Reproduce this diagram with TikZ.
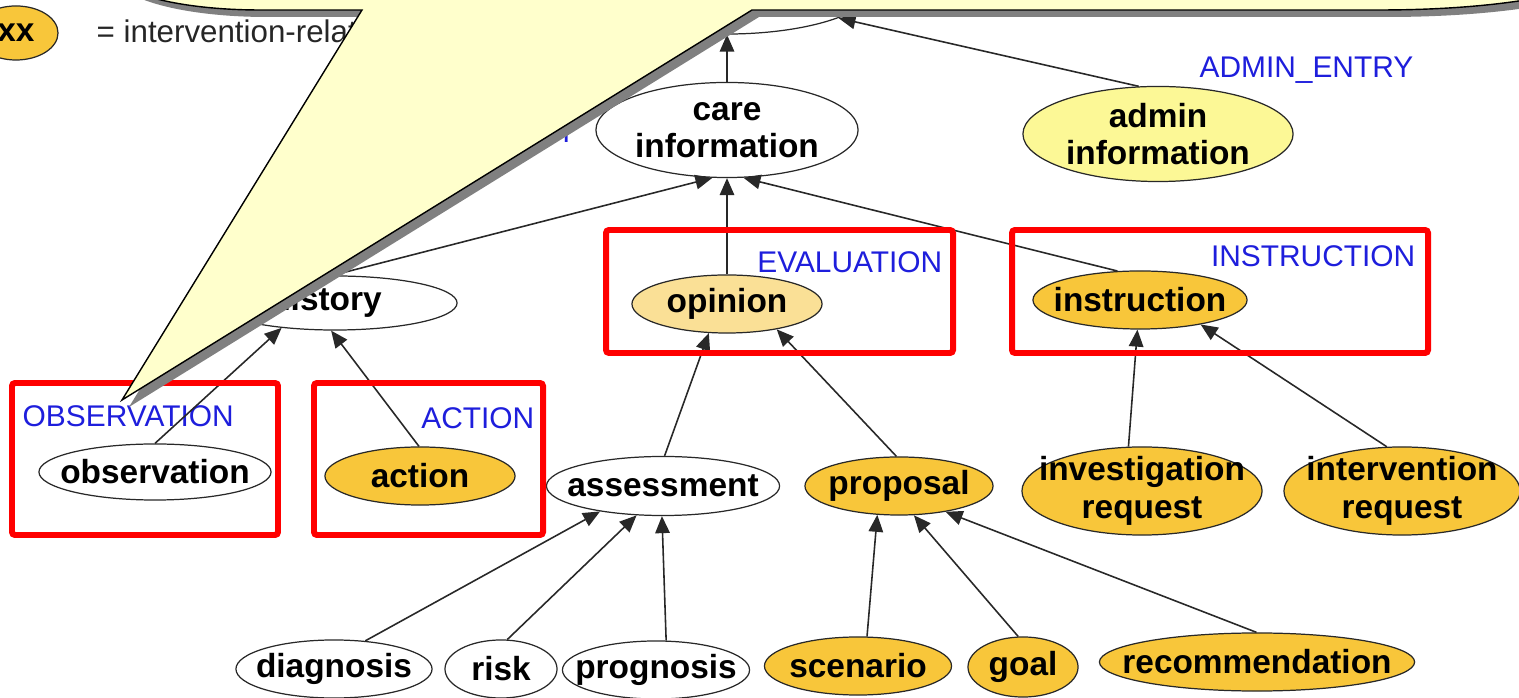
\documentclass[tikz,border=0pt]{standalone}
\usepackage{fontspec}
\setmainfont{Liberation Sans}
\usetikzlibrary{shapes.geometric,arrows.meta}
\definecolor{gold}{RGB}{248,198,58}
\definecolor{paleor}{RGB}{250,224,150}
\definecolor{adminy}{RGB}{252,248,150}
\definecolor{calloutc}{RGB}{255,255,204}
\definecolor{lblue}{RGB}{30,30,220}
\definecolor{shad}{RGB}{128,128,128}
\definecolor{edgec}{RGB}{40,40,40}
\begin{document}
\begin{tikzpicture}[x=0.01cm,y=-0.01cm,
 ell/.style={ellipse, draw=edgec, line width=0.35pt, fill=white, inner sep=0pt},
 sz/.style 2 args={minimum width=#1, minimum height=#2},
 txt/.style={font=\bfseries\fontsize{9.5}{10.6}\selectfont, align=center, inner sep=0pt},
 lbl/.style={font=\fontsize{8.5}{10}\selectfont, text=lblue, inner sep=0pt},
 arr/.style={draw=edgec, line width=0.45pt, -{Triangle[length=0.17cm,width=0.145cm]}},
 redbox/.style={draw=red, line width=1.7pt, rounded corners=0.03cm}]
\useasboundingbox (0,0) rectangle (1519,698);
\clip (0,0) rectangle (1519,698);

% legend
\node[ell, fill=gold, sz={0.84cm}{0.54cm}] (legxx) at (16,33) {};
\node[txt] at (legxx) {xx};
\node[anchor=west, inner sep=0pt, font=\fontsize{8.9}{10}\selectfont, text=black!85] (legtxt) at (96,31) {= intervention-related};

% nodes
\node[ell, sz={3.0cm}{1.0cm}] (top) at (727,-16) {};
\node[ell, sz={2.62cm}{0.95cm}] (care) at (727,130) {};
\node[txt] at (care) {care\\information};
\node[ell, fill=adminy, sz={2.7cm}{0.95cm}] (admin) at (1158,134) {};
\node[txt] at (admin) {admin\\information};
\node[lbl, anchor=east] (adminlbl) at (1414,70) {ADMIN\_ENTRY};
\node[lbl, anchor=east] (carelbl) at (577,132) {ENTRY};

\node[ell, sz={2.44cm}{0.54cm}] (hist) at (335,303) {};
\node[txt] (histtxt) at (326,302) {history};
\node[ell, fill=paleor, sz={1.9cm}{0.58cm}] (opin) at (727,304) {};
\node[txt] at (opin) {opinion};
\node[ell, fill=gold, sz={2.14cm}{0.58cm}] (instr) at (1140,300) {};
\node[txt] at (instr) {instruction};

\node[ell, sz={2.32cm}{0.56cm}] (obs) at (155,472) {};
\node[txt] at (obs) {observation};
\node[ell, fill=gold, sz={1.9cm}{0.58cm}] (act) at (420,476) {};
\node[txt] at (act) {action};
\node[ell, sz={2.33cm}{0.59cm}] (assess) at (663,486) {};
\node[txt] at (assess) {assessment};
\node[ell, fill=gold, sz={1.88cm}{0.58cm}] (prop) at (899,486) {};
\node[txt] at (prop) {proposal};
\node[ell, fill=gold, sz={2.4cm}{0.88cm}] (invreq) at (1142,491) {};
\node[txt] at (invreq) {investigation\\request};
\node[ell, fill=gold, sz={2.36cm}{0.88cm}] (intreq) at (1402,491) {};
\node[txt] at (intreq) {intervention\\request};

\node[ell, sz={1.96cm}{0.58cm}] (diag) at (334,669) {};
\node[txt] at (diag) {diagnosis};
\node[ell, sz={1.12cm}{0.58cm}] (risk) at (501,669) {};
\node[txt] at (risk) {risk};
\node[ell, sz={1.87cm}{0.58cm}] (progn) at (656,670) {};
\node[txt] at (progn) {prognosis};
\node[ell, fill=gold, sz={1.87cm}{0.58cm}] (scen) at (858,666) {};
\node[txt] at (scen) {scenario};
\node[ell, fill=gold, sz={1.1cm}{0.6cm}] (goal) at (1023,667) {};
\node[txt] at (goal) {goal};
\node[ell, fill=gold, sz={3.15cm}{0.58cm}] (recom) at (1257,662) {};
\node[txt] at (recom) {recommendation};

% labels
\node[lbl, anchor=west] (obslbl) at (22,416) {OBSERVATION};
\node[lbl, anchor=east] (actlbl) at (535,418) {ACTION};
\node[lbl, anchor=east] (evallbl) at (943,262) {EVALUATION};
\node[lbl, anchor=east] (instrlbl) at (1416,256) {INSTRUCTION};

% connectors
\draw[arr] (care.north) -- (top.south);
\draw[arr] (admin.112) -- (top.343);
\draw[arr] (hist.95) -- (care.253);
\draw[arr] (opin.north) -- (care.south);
\draw[arr] (instr.128) -- (care.289);
\draw[arr] (obs.north) -- (hist.205);
\draw[arr] (act.92) -- (hist.262);
\draw[arr] (assess.87) -- (opin.238);
\draw[arr] (prop.95) -- (opin.333);
\draw[arr] (invreq.107) -- (instr.265);
\draw[arr] (intreq.109) -- (instr.338);
\draw[arr] (diag.42) -- (assess.202);
\draw[arr] (risk.78) -- (assess.228);
\draw[arr] (progn.71) -- (assess.268);
\draw[arr] (scen.73) -- (prop.233);
\draw[arr] (goal.99) -- (prop.297);
\draw[arr] (recom.91) -- (prop.331);

% red boxes
\draw[redbox] (12,383) rectangle (278,535);
\draw[redbox] (314,383) rectangle (543,535);
\draw[redbox] (606,230) rectangle (953,353);
\draw[redbox] (1012,230) rectangle (1428,353);

% callout
\fill[shad, shift={(7,7)}] (110,-200) -- (110,-30) .. controls (110,-8) and (177,10) .. (260,10) -- (362,10) -- (122,400) -- (752,10) -- (1380,10) .. controls (1501,10) and (1600,-8) .. (1600,-30) -- (1600,-200) -- cycle;
\filldraw[fill=calloutc, draw=black, line width=0.4pt] (110,-200) -- (110,-30) .. controls (110,-8) and (177,10) .. (260,10) -- (362,10) -- (122,400) -- (752,10) -- (1380,10) .. controls (1501,10) and (1600,-8) .. (1600,-30) -- (1600,-200) -- cycle;
\end{tikzpicture}
\end{document}
